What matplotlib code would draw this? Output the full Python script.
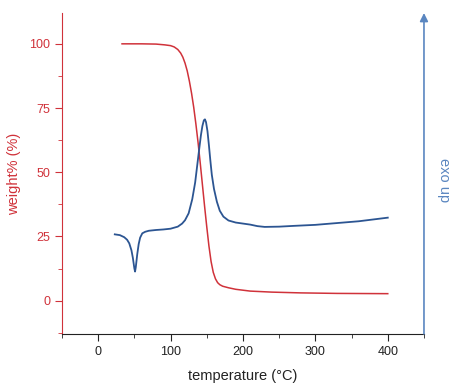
import matplotlib as mpl
mpl.use('Agg')
import matplotlib.pyplot as plt
from matplotlib.ticker import MultipleLocator

plt.rcParams['font.family'] = ['Liberation Sans', 'DejaVu Sans']

# TGA weight loss (red)
tga_temp = [33, 60, 80, 92, 100, 105, 110, 114, 117, 120, 123, 126, 129, 132,
            135, 138, 141, 144, 147, 150, 153, 156, 159, 162, 165, 168, 172,
            180, 190, 210, 240, 280, 330, 400]
tga_weight = [100, 100, 99.9, 99.6, 99.3, 98.8, 97.8, 96.4, 94.8, 92.5, 89.5,
              85.5, 80.8, 75.3, 68.8, 61.6, 53.6, 45.2, 36.8, 28.8, 21.3, 15.2,
              11.0, 8.5, 7.0, 6.2, 5.6, 5.0, 4.4, 3.7, 3.3, 3.0, 2.8, 2.7]

# DSC heat flow (blue), exo up
dsc_temp = [23, 30, 36, 40, 43, 46, 48, 50, 51, 52, 54, 56, 58, 61, 65, 70, 80,
            90, 100, 110, 116, 120, 125, 130, 134, 137, 140, 142, 144, 146,
            147.5, 149, 151, 153, 155, 157, 160, 164, 168, 173, 180, 190, 200,
            210, 220, 230, 250, 270, 300, 330, 360, 380, 400]
dsc_signal = [25.8, 25.5, 24.7, 23.7, 22.3, 19.6, 16.6, 12.6, 11.3, 13.0, 18.0,
              22.0, 24.5, 26.2, 26.8, 27.2, 27.5, 27.7, 28.0, 28.8, 30.0, 31.3,
              34.0, 39.5, 46.0, 53.0, 60.0, 64.5, 68.0, 70.2, 70.6, 69.5, 66.0,
              60.5, 54.5, 49.0, 43.5, 38.5, 35.0, 32.7, 31.2, 30.4, 30.0, 29.6,
              29.0, 28.7, 28.8, 29.1, 29.5, 30.2, 30.9, 31.6, 32.3]

red = '#d0323a'
blue = '#2c5592'
axblue = '#5a86c0'

fig = plt.figure(figsize=(4.52, 3.83), dpi=100)
ax = fig.add_axes([0.137, 0.128, 0.801, 0.838])

ax.plot(tga_temp, tga_weight, color=red, lw=1.1)
ax.plot(dsc_temp, dsc_signal, color=blue, lw=1.3)

ax.set_xlim(-50, 450)
ax.set_ylim(-13, 112)
ax.xaxis.set_major_locator(MultipleLocator(100))
ax.xaxis.set_minor_locator(MultipleLocator(50))
ax.yaxis.set_major_locator(MultipleLocator(25))
ax.yaxis.set_minor_locator(MultipleLocator(12.5))

ax.spines['top'].set_visible(False)
ax.spines['right'].set_visible(False)
ax.spines['left'].set_color(red)
ax.spines['bottom'].set_color('#222222')

ax.tick_params(axis='y', which='both', colors=red, direction='out', labelsize=9)
ax.tick_params(axis='y', which='major', length=5)
ax.tick_params(axis='y', which='minor', length=3)
ax.tick_params(axis='x', which='both', colors='#222222', direction='out', labelsize=9)
ax.tick_params(axis='x', which='major', length=5)
ax.tick_params(axis='x', which='minor', length=3)

ax.set_xlabel('temperature (°C)', fontsize=10.5, color='#222222', labelpad=8)
ax.set_ylabel('weight% (%)', fontsize=10.5, color=red, labelpad=6)

# right "exo up" axis drawn as an arrow
ax.annotate('', xy=(1, 1.0), xytext=(1, 0), xycoords='axes fraction',
            arrowprops=dict(arrowstyle='-|>', color=axblue, lw=1.2,
                            mutation_scale=12, shrinkA=0, shrinkB=0))
fig.text(0.982, 0.53, 'exo up', rotation=270, color=axblue, fontsize=10.5,
         ha='center', va='center')

fig.savefig('out.png', dpi=100)
